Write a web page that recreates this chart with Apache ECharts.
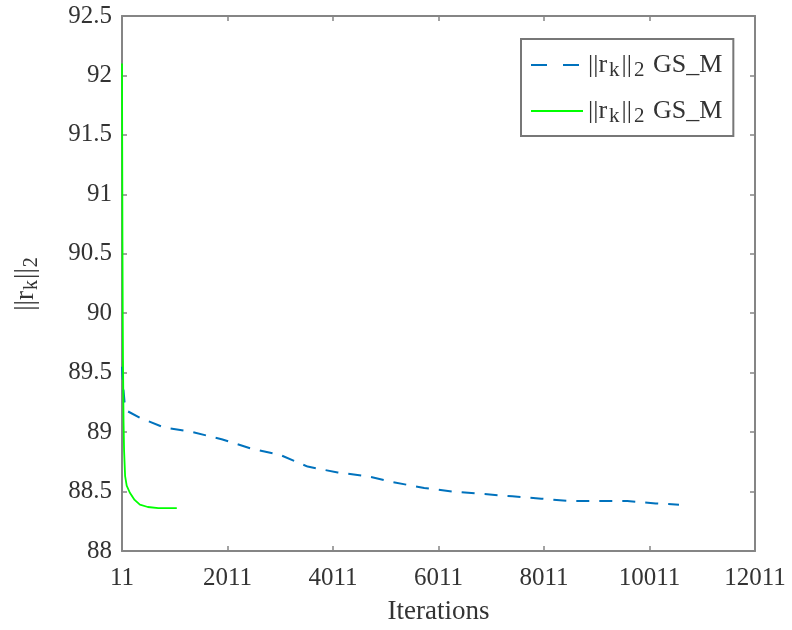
<!DOCTYPE html>
<html>
<head>
<meta charset="utf-8">
<script src="https://cdn.jsdelivr.net/npm/echarts@6/dist/echarts.min.js"></script>
<style>
    html, body { margin: 0; padding: 0; background: #fff; }
    #chart { width: 792px; height: 630px; }
</style>
</head>
<body>
<div id="chart"></div>
<script>
// iterations / residual norm
var blueIter = [11, 30, 60, 100, 350, 800, 1350, 1900, 2470, 3000, 3530, 4100, 4650, 5140, 5740, 6270, 6840, 7410, 7960, 8490, 9060, 9590, 10130, 10570];
var blueVal = [89.55, 89.4, 89.25, 89.18, 89.12, 89.04, 89.0, 88.94, 88.86, 88.81, 88.71, 88.66, 88.63, 88.58, 88.53, 88.5, 88.48, 88.46, 88.44, 88.42, 88.42, 88.42, 88.4, 88.39];

var greenIter = [11, 15, 20, 25, 30, 40, 50, 70, 100, 160, 250, 350, 500, 700, 1050];
var greenVal = [92.1, 91.4, 90.6, 90.0, 89.6, 89.1, 88.85, 88.63, 88.55, 88.49, 88.43, 88.39, 88.37, 88.36, 88.36];

var xTicks = { min: 11, max: 12011, step: 2000 };
var yTicks = { min: 88, max: 92.5, step: 0.5 };

var seriesNames = ["GS_M blue", "GS_M green"];

var font = "Liberation Serif";
var axisColor = "#858585";
var textColor = "#333";

function zip(a, b) {
    return a.map(function (v, i) {
        return [v, b[i]];
    });
}

function richName(big, small, drop, side) {
    return {
        n: { fontFamily: font, fontSize: big, color: textColor },
        s: { fontFamily: font, fontSize: small, color: textColor, padding: [drop, side, 0, side] },
    };
}

var baseX = {
    type: "value",
    min: xTicks.min,
    max: xTicks.max,
    interval: xTicks.step,
    splitLine: { show: false },
    axisLine: { onZero: false, lineStyle: { color: axisColor, width: 2 } },
    axisTick: { inside: true, length: 5, lineStyle: { color: axisColor, width: 1.5 } },
};

var baseY = {
    type: "value",
    min: yTicks.min,
    max: yTicks.max,
    interval: yTicks.step,
    splitLine: { show: false },
    axisLine: { onZero: false, lineStyle: { color: axisColor, width: 2 } },
    axisTick: { inside: true, length: 5, lineStyle: { color: axisColor, width: 1.5 } },
};

var option = {
    animation: false,
    backgroundColor: "#fff",
    grid: {
        left: 122,
        right: 37,
        top: 16,
        bottom: 78,
    },
    legend: {
        orient: "vertical",
        left: 521,
        top: 39,
        padding: [13, 11, 9, 9],
        itemWidth: 52,
        itemHeight: 20,
        itemGap: 17,
        borderColor: "#777",
        borderWidth: 2,
        backgroundColor: "#fff",
        itemStyle: { opacity: 0 },
        data: [
            { name: seriesNames[0], lineStyle: { type: [16, 16] } },
            { name: seriesNames[1] },
        ],
        formatter: function () {
            return "{n|||r}{s|k}{n|||}{s|2}{n| GS_M}";
        },
        textStyle: { rich: richName(26, 21, 11, 2) },
    },
    xAxis: [
        Object.assign({}, baseX, {
            position: "bottom",
            name: "Iterations",
            nameLocation: "middle",
            nameGap: 47,
            nameTextStyle: { fontFamily: font, fontSize: 27, color: textColor },
            axisLabel: {
                fontFamily: font,
                fontSize: 25,
                color: textColor,
                margin: 15,
                formatter: function (v) {
                    return String(v);
                },
            },
        }),
        Object.assign({}, baseX, {
            position: "top",
            axisLabel: { show: false },
        }),
    ],
    yAxis: [
        Object.assign({}, baseY, {
            position: "left",
            name: "{n|||r}{s|k}{n|||}{s|2}",
            nameLocation: "middle",
            nameGap: 80,
            nameTextStyle: { rich: richName(27, 20, 12, 1) },
            axisLabel: {
                fontFamily: font,
                fontSize: 25,
                color: textColor,
                margin: 10,
            },
        }),
        Object.assign({}, baseY, {
            position: "right",
            axisLabel: { show: false },
        }),
    ],
    series: [
        {
            name: seriesNames[0],
            type: "line",
            showSymbol: false,
            symbol: "none",
            color: "#0072BD",
            lineStyle: { width: 2, type: [13, 10], color: "#0072BD" },
            data: zip(blueIter, blueVal),
        },
        {
            name: seriesNames[1],
            type: "line",
            showSymbol: false,
            symbol: "none",
            color: "#00ff00",
            lineStyle: { width: 1.8, color: "#00ff00" },
            data: zip(greenIter, greenVal),
        },
    ],
};

var myChart = echarts.init(document.getElementById("chart"));
myChart.setOption(option);
</script>
</body>
</html>
